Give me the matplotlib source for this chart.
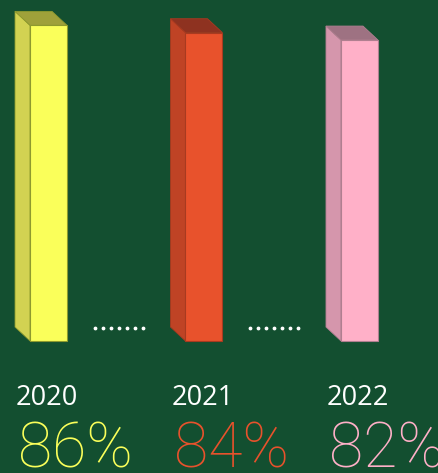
import numpy as np
import matplotlib.pyplot as plt
from matplotlib.patches import Polygon

years = ["2020", "2021", "2022"]
values = [86, 84, 82]
front_colors = ["#FAFF5A", "#E8522C", "#FFB0C8"]
side_colors = ["#D2D252", "#BF4325", "#D596AC"]
top_colors = ["#9FA13A", "#8E3220", "#9E7282"]
edge_colors = ["#8E9A2E", "#A83A20", "#B07F90"]
bg = "#134F30"

fig = plt.figure(figsize=(4.38, 4.73), dpi=100)
fig.patch.set_facecolor(bg)
ax = fig.add_axes([0, 0, 1, 1])
ax.set_facecolor(bg)

# x: bar index, y: percent (3.67 px per point)
ax.set_xlim(-0.312, 2.505)
ax.set_ylim(-35.97, 92.9)
ax.axis("off")

w = 0.238
dx = -0.0965
dy = 3.8
xs = np.arange(len(values)) * 1.0

ax.bar(xs, values, width=w, color=front_colors, edgecolor=edge_colors, linewidth=0.8, zorder=3)

for i, v in enumerate(values):
    x0 = xs[i] - w / 2
    x1 = xs[i] + w / 2
    side = Polygon([(x0, 0), (x0 + dx, dy), (x0 + dx, v + dy), (x0, v)],
                   closed=True, facecolor=side_colors[i], edgecolor=edge_colors[i], linewidth=0.6, zorder=2)
    top = Polygon([(x0, v), (x0 + dx, v + dy), (x1 + dx, v + dy), (x1, v)],
                  closed=True, facecolor=top_colors[i], edgecolor=edge_colors[i], linewidth=0.6, zorder=2)
    ax.add_patch(side)
    ax.add_patch(top)

    ax.text(x0 + dx + 0.005, -17.4, years[i], color="white", fontsize=19.5,
            family=["Open Sans", "DejaVu Sans"], ha="left", va="baseline")
    ax.text(x0 + dx + 0.02, -34.6, f"{v}%", color=front_colors[i], fontsize=45,
            family=["Roboto", "DejaVu Sans"], fontweight="light", ha="left", va="baseline")

# dotted separators between bars
for i in range(len(values) - 1):
    a = xs[i] + w / 2
    b = xs[i + 1] - w / 2 + dx
    mid = (a + b) / 2
    dots = np.linspace(mid - 0.155, mid + 0.155, 7)
    ax.scatter(dots, np.full(7, 3.5), s=3, color="white", zorder=4)

fig.savefig("out.png", dpi=100, facecolor=bg)
